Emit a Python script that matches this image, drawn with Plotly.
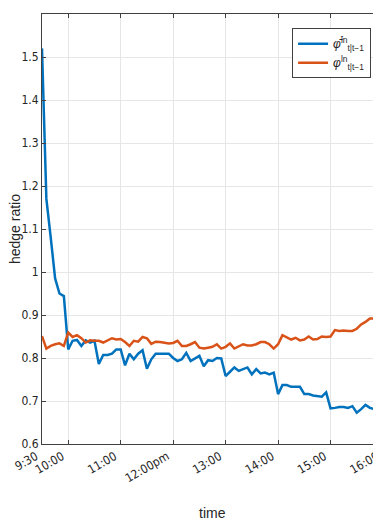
import pandas as pd
import plotly.graph_objects as go

# 5-minute bars, 9:30 to 16:00
times = pd.date_range('2020-01-02 09:30', '2020-01-02 16:00', freq='5min')

phi_bar = [1.52, 1.17, 1.08, 0.985, 0.95, 0.944, 0.82, 0.84, 0.842, 0.828,
           0.841, 0.836, 0.84, 0.786, 0.807, 0.807, 0.81, 0.82, 0.82, 0.783,
           0.81, 0.797, 0.81, 0.818, 0.775, 0.797, 0.81, 0.81, 0.81, 0.81,
           0.8, 0.793, 0.797, 0.812, 0.793, 0.8, 0.805, 0.781, 0.795, 0.793,
           0.8, 0.799, 0.758, 0.768, 0.778, 0.77, 0.774, 0.778, 0.762, 0.774,
           0.764, 0.766, 0.762, 0.766, 0.716, 0.737, 0.737, 0.733, 0.733, 0.733,
           0.716, 0.716, 0.713, 0.712, 0.71, 0.72, 0.683, 0.684, 0.686, 0.686,
           0.684, 0.688, 0.673, 0.681, 0.691, 0.684, 0.681, 0.681, 0.683]

phi = [0.851, 0.822, 0.828, 0.832, 0.834, 0.828, 0.859, 0.849, 0.853, 0.846,
       0.836, 0.841, 0.84, 0.84, 0.836, 0.842, 0.846, 0.843, 0.844, 0.837,
       0.828, 0.84, 0.838, 0.849, 0.846, 0.833, 0.838, 0.837, 0.836, 0.834,
       0.835, 0.84, 0.828, 0.828, 0.832, 0.837, 0.824, 0.822, 0.824, 0.826,
       0.832, 0.822, 0.826, 0.834, 0.822, 0.828, 0.832, 0.829, 0.829, 0.832,
       0.837, 0.837, 0.832, 0.822, 0.832, 0.853, 0.847, 0.843, 0.847, 0.841,
       0.843, 0.85, 0.843, 0.844, 0.85, 0.849, 0.85, 0.865, 0.863, 0.864,
       0.863, 0.863, 0.868, 0.878, 0.884, 0.892, 0.892, 0.9, 0.904]

tick_times = ['2020-01-02 09:30', '2020-01-02 10:00', '2020-01-02 11:00',
              '2020-01-02 12:00', '2020-01-02 13:00', '2020-01-02 14:00',
              '2020-01-02 15:00', '2020-01-02 16:00']
tick_labels = ['9:30', '10:00', '11:00', '12:00pm', '13:00', '14:00', '15:00', '16:00']
y_ticks = [0.6, 0.7, 0.8, 0.9, 1.0, 1.1, 1.2, 1.3, 1.4, 1.5, 1.6]
y_labels = ['0.6', '0.7', '0.8', '0.9', '1', '1.1', '1.2', '1.3', '1.4', '1.5', '1.6']

fig = go.Figure()
fig.add_trace(go.Scatter(
    x=times, y=phi_bar, mode='lines',
    line={'color': '#0072BD', 'width': 2.5},
    name='<i>φ̄</i><sup>l̄n</sup><sub>t|t−1</sub>'
))
fig.add_trace(go.Scatter(
    x=times, y=phi, mode='lines',
    line={'color': '#D95319', 'width': 2.5},
    name='<i>φ</i><sup>ln</sup><sub>t|t−1</sub>'
))

narrow = 'Liberation Sans Narrow, Arial Narrow, DejaVu Sans Condensed, Liberation Sans'

axis_style = dict(
    showline=True, linecolor='#404040', linewidth=1, mirror='ticks',
    ticks='inside', ticklen=4, tickcolor='#404040',
    showgrid=True, gridcolor='#e6e6e6', gridwidth=1, zeroline=False,
    automargin=False,
    tickfont={'family': narrow, 'size': 12, 'color': '#262626'},
)

fig.update_xaxes(
    range=[tick_times[0], tick_times[-1]],
    tickvals=tick_times, ticktext=tick_labels, tickangle=-30,
    ticklabelshift=-6,
    **axis_style
)
fig.update_yaxes(
    range=[0.6, 1.6], tickvals=y_ticks, ticktext=y_labels,
    **axis_style
)

# axis titles placed as annotations so they sit where the reference puts them
title_font = {'family': 'Liberation Sans', 'size': 14, 'color': '#262626'}
fig.add_annotation(text='time', xref='paper', yref='paper', x=0.5, y=-0.16,
                   xanchor='center', yanchor='middle', showarrow=False, font=title_font)
fig.add_annotation(text='hedge ratio', xref='paper', yref='paper', x=-0.079, y=0.5,
                   xanchor='center', yanchor='middle', textangle=-90, showarrow=False,
                   font=title_font)

fig.update_layout(
    width=381, height=523,
    margin={'l': 34, 'r': 6, 't': 6, 'b': 87},
    paper_bgcolor='white', plot_bgcolor='white',
    showlegend=True,
    legend={'x': 0.965, 'y': 0.967, 'xanchor': 'right', 'yanchor': 'top',
            'bgcolor': 'white', 'bordercolor': '#404040', 'borderwidth': 1,
            'font': {'family': 'Liberation Sans', 'size': 12, 'color': '#262626'},
            'itemwidth': 30, 'tracegroupgap': 4},
)

fig.write_html('out.html')
